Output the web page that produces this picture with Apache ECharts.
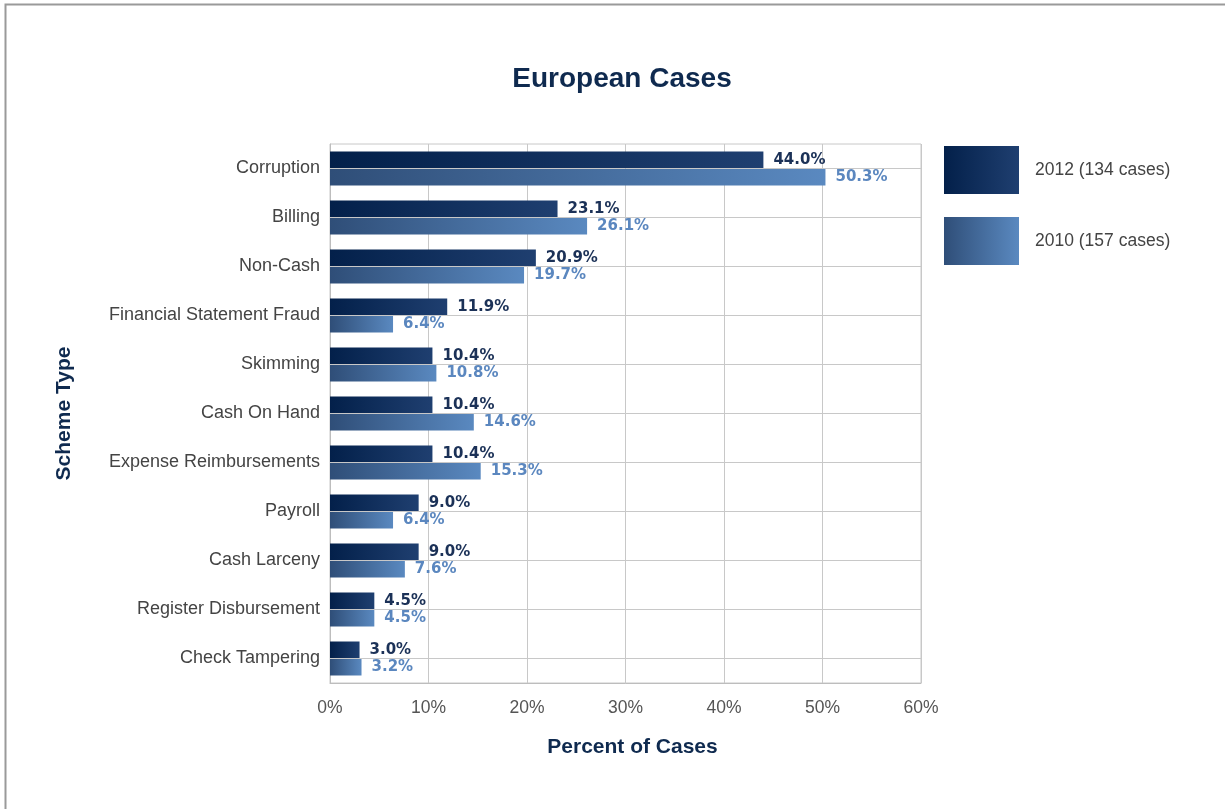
<!DOCTYPE html>
<html>
<head>
<meta charset="utf-8">
<title>European Cases</title>
<script src="https://cdn.jsdelivr.net/npm/echarts@6/dist/echarts.min.js"></script>
<style>
  html, body { margin: 0; padding: 0; background: #fff; }
  #chart { width: 1225px; height: 809px; }
</style>
</head>
<body>
<div id="chart"></div>
<script>
// 方案类型（从上到下）
const categories = ['Corruption', 'Billing', 'Non-Cash', 'Financial Statement Fraud', 'Skimming',
  'Cash On Hand', 'Expense Reimbursements', 'Payroll', 'Cash Larceny', 'Register Disbursement', 'Check Tampering']
const values2012 = [44.0, 23.1, 20.9, 11.9, 10.4, 10.4, 10.4, 9.0, 9.0, 4.5, 3.0]
const values2010 = [50.3, 26.1, 19.7, 6.4, 10.8, 14.6, 15.3, 6.4, 7.6, 4.5, 3.2]
const seriesNames = ['2012 (134 cases)', '2010 (157 cases)']
const xTicks = [0, 10, 20, 30, 40, 50, 60]

const myChart = echarts.init(document.getElementById('chart'))
const font = '"Liberation Sans", Arial, sans-serif'
const grad = (a, b) => new echarts.graphic.LinearGradient(0, 0, 1, 0, [
  { offset: 0, color: a },
  { offset: 1, color: b }
])
const barLabel = (color) => ({
  show: true,
  position: 'right',
  distance: 10,
  formatter: (p) => p.value.toFixed(1) + '%',
  fontFamily: '"DejaVu Sans", sans-serif',
  fontSize: 15,
  fontWeight: 'bold',
  color: color
})
const option = {
  animation: false,
  title: {
    text: 'European Cases',
    left: 617,
    top: 60,
    textAlign: 'center',
    textStyle: { fontFamily: font, fontSize: 28, fontWeight: 'bold', color: '#0f2a4f' }
  },
  // 外框
  graphic: [{
    type: 'rect',
    shape: { x: 5.5, y: 4.5, width: 1400, height: 1000 },
    style: { fill: 'none', stroke: '#9a9a9a', lineWidth: 2 },
    silent: true
  }],
  legend: {
    orient: 'vertical',
    left: 944,
    top: 146,
    padding: 0,
    itemWidth: 75,
    itemHeight: 48,
    itemGap: 23,
    icon: 'rect',
    textStyle: { fontFamily: font, fontSize: 17.5, color: '#444', padding: [0, 0, 0, 11] },
    data: seriesNames
  },
  grid: { left: 330, right: 304, top: 144, bottom: 126, show: true, borderColor: '#c8c8c8', borderWidth: 1 },
  xAxis: {
    type: 'value',
    min: xTicks[0],
    max: xTicks[xTicks.length - 1],
    interval: 10,
    name: 'Percent of Cases',
    nameLocation: 'middle',
    nameGap: 54,
    nameTextStyle: { fontFamily: font, fontSize: 21, fontWeight: 'bold', color: '#0f2a4f', padding: [0, 0, 0, 14] },
    axisLine: { show: true, lineStyle: { color: '#bdbdbd' } },
    axisTick: { show: false },
    axisLabel: { formatter: '{value}%', fontFamily: font, fontSize: 17.5, color: '#555', margin: 16 },
    splitLine: { show: true, lineStyle: { color: '#c8c8c8', width: 1 } }
  },
  yAxis: {
    type: 'category',
    inverse: true,
    data: categories,
    name: 'Scheme Type',
    nameLocation: 'middle',
    nameGap: 255,
    nameRotate: 90,
    nameTextStyle: { fontFamily: font, fontSize: 21, fontWeight: 'bold', color: '#0f2a4f' },
    axisLine: { show: true, lineStyle: { color: '#bdbdbd' } },
    axisTick: { show: false },
    axisLabel: { fontFamily: font, fontSize: 18, color: '#444', margin: 10 },
    splitLine: { show: false }
  },
  series: [
    {
      name: seriesNames[0],
      type: 'bar',
      data: values2012,
      barWidth: 17,
      barGap: '0%',
      z: 3,
      itemStyle: { color: grad('#03204a', '#1f3f70') },
      label: barLabel('#1b3157')
    },
    {
      name: seriesNames[1],
      type: 'bar',
      data: values2010,
      barWidth: 17,
      barGap: '0%',
      z: 3,
      itemStyle: { color: grad('#2f4e78', '#5a89c0') },
      label: barLabel('#5b87bf')
    },
    // 类目中线（两根柱子的分界线）
    {
      type: 'line',
      data: [],
      z: 1,
      silent: true,
      markLine: {
        silent: true,
        symbol: 'none',
        label: { show: false },
        lineStyle: { color: '#c8c8c8', type: 'solid', width: 1 },
        data: categories.map((c) => ({ yAxis: c }))
      }
    }
  ]
}
myChart.setOption(option)
</script>
</body>
</html>
